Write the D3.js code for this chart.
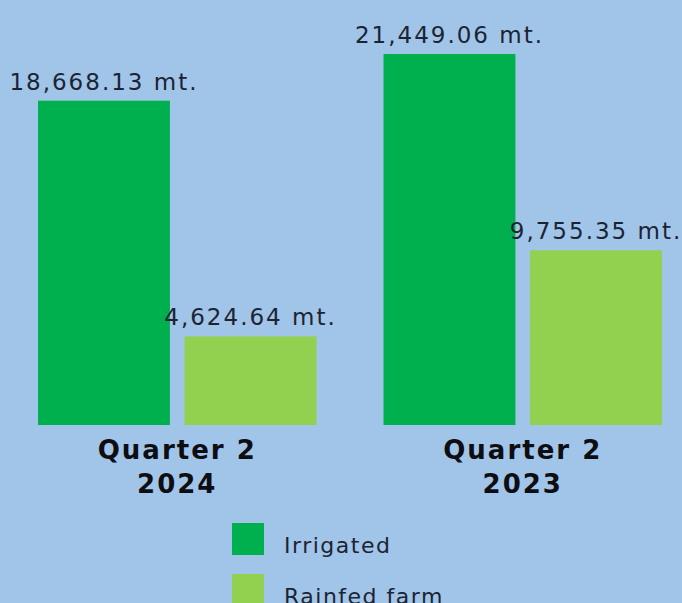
<!DOCTYPE html>
<html>
<head>
<meta charset="utf-8">
<script src="https://cdn.jsdelivr.net/npm/d3@7"></script>
<style>
  html, body { margin: 0; padding: 0; background: #a1c5e8; }
  svg { display: block; }
</style>
</head>
<body>
<svg id="chart" width="682" height="603"></svg>
<script>
const groups = ["Quarter 2|2024", "Quarter 2|2023"];
const series = ["Irrigated", "Rainfed farm"];
const irrigated = [18668.13, 21449.06];
const rainfed = [4624.64, 9755.35];
const colors = ["#00b04f", "#92d050"];

const data = groups.map((g, i) => ({ group: g, values: [irrigated[i], rainfed[i]] }));

const svg = d3.select("#chart");
const W = 682, H = 603;
const baseline = 425;

const x0 = d3.scaleBand().domain(groups).range([38, 662]).paddingInner(0.194).paddingOuter(0);
const x1 = d3.scaleBand().domain(series).range([0, x0.bandwidth()]).paddingInner(0.1).paddingOuter(0);
const y = d3.scaleLinear().domain([-655, 21449]).range([baseline, 54]);
const fmt = d3.format(",.2f");

const g = svg.selectAll("g.grp").data(data).enter().append("g")
  .attr("class", "grp")
  .attr("transform", d => `translate(${x0(d.group)},0)`);

g.selectAll("rect").data(d => d.values.map((v, j) => ({ s: series[j], v, j })))
  .enter().append("rect")
  .attr("x", d => x1(d.s))
  .attr("width", x1.bandwidth())
  .attr("y", d => y(d.v))
  .attr("height", d => baseline - y(d.v))
  .attr("fill", d => colors[d.j]);

g.selectAll("text.val").data(d => d.values.map((v, j) => ({ s: series[j], v, j })))
  .enter().append("text")
  .attr("class", "val")
  .attr("x", d => x1(d.s) + x1.bandwidth() / 2)
  .attr("y", d => y(d.v) - 11)
  .attr("text-anchor", "middle")
  .attr("font-family", "DejaVu Sans")
  .attr("font-size", 23)
  .attr("letter-spacing", 2)
  .attr("fill", "#1c2333")
  .text(d => fmt(d.v) + " mt.");

const cat = g.append("text")
  .attr("text-anchor", "middle")
  .attr("font-family", "DejaVu Sans")
  .attr("font-weight", "bold")
  .attr("font-size", 26)
  .attr("letter-spacing", 2)
  .attr("fill", "#0d0d12");
cat.selectAll("tspan").data(d => d.group.split("|")).enter().append("tspan")
  .attr("x", x0.bandwidth() / 2)
  .attr("y", (d, i) => 459 + i * 34)
  .text(d => d);

const leg = svg.append("g").selectAll("g").data(series).enter().append("g")
  .attr("transform", (d, i) => `translate(232,${523 + i * 51})`);
leg.append("rect").attr("width", 32).attr("height", 32).attr("fill", (d, i) => colors[i]);
leg.append("text")
  .attr("x", 52).attr("y", 30)
  .attr("font-family", "DejaVu Sans")
  .attr("font-size", 22)
  .attr("letter-spacing", 1.5)
  .attr("fill", "#1c2333")
  .text(d => d);
</script>
</body>
</html>
